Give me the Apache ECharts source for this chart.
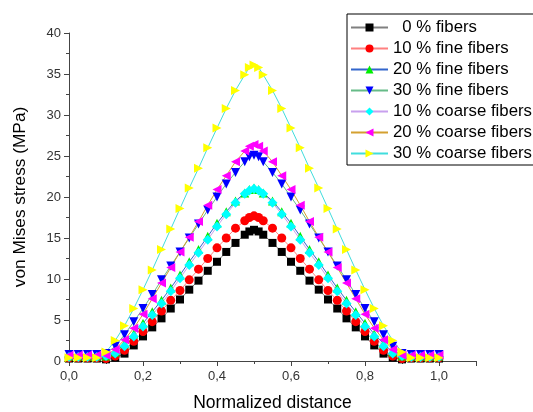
<!DOCTYPE html>
<html>
<head>
<meta charset="utf-8">
<script src="https://cdn.jsdelivr.net/npm/echarts@6/dist/echarts.min.js"></script>
<style>
html,body{margin:0;padding:0;background:#fff;}
#chart{width:533px;height:412px;}
</style>
</head>
<body>
<div id="chart"></div>
<script>
// x positions (normalized distance)
const xs = [0,0.025,0.05,0.075,0.1,0.125,0.15,0.175,0.2,0.225,0.25,0.275,0.3,0.325,0.35,0.375,0.4,0.425,0.45,0.475,
  0.4875,0.5,0.5125,
  0.525,0.55,0.575,0.6,0.625,0.65,0.675,0.7,0.725,0.75,0.775,0.8,0.825,0.85,0.875,0.9,0.925,0.95,0.975,1.0];

const seriesNames = ['  0 % fibers','10 % fine fibers','20 % fine fibers','30 % fine fibers','10 % coarse fibers','20 % coarse fibers','30 % coarse fibers'];

const fibers0 = [0.3,0.3,0.3,0.3,0.2,0.4,0.9,1.9,3.0,4.1,5.2,6.4,7.5,8.7,9.8,11.0,12.1,13.3,14.4,15.4,
  15.8,16.0,15.8,
  15.4,14.4,13.3,12.1,11.0,9.8,8.7,7.5,6.4,5.2,4.1,3.0,1.9,0.9,0.4,0.2,0.3,0.3,0.3,0.3];
const fine10 = [0.4,0.4,0.4,0.4,0.3,0.6,1.3,2.4,3.6,4.8,6.1,7.4,8.6,9.9,11.2,12.5,13.8,15.0,16.2,17.1,
  17.5,17.7,17.5,
  17.1,16.2,15.0,13.8,12.5,11.2,9.9,8.6,7.4,6.1,4.8,3.6,2.4,1.3,0.6,0.3,0.4,0.4,0.4,0.4];
const fine20 = [0.6,0.6,0.6,0.6,0.6,1.1,2.1,3.3,4.6,6.0,7.4,8.9,10.5,12.1,13.6,15.2,16.8,18.2,19.5,20.5,
  20.9,21.1,20.9,
  20.5,19.5,18.2,16.8,15.2,13.6,12.1,10.5,8.9,7.4,6.0,4.6,3.3,2.1,1.1,0.6,0.6,0.6,0.6,0.6];
const fine30 = [0.8,0.8,0.8,0.8,0.9,1.8,3.2,4.8,6.4,8.1,9.9,11.6,13.3,15.0,16.7,18.4,20.0,21.6,23.0,24.3,
  24.9,25.1,24.9,
  24.3,23.0,21.6,20.0,18.4,16.7,15.0,13.3,11.6,9.9,8.1,6.4,4.8,3.2,1.8,0.9,0.8,0.8,0.8,0.8];
const coarse10 = [0.5,0.5,0.5,0.5,0.6,0.9,1.8,3.0,4.2,5.6,7.0,8.5,10.1,11.7,13.2,14.8,16.4,17.9,19.3,20.4,
  20.8,21.0,20.8,
  20.4,19.3,17.9,16.4,14.8,13.2,11.7,10.1,8.5,7.0,5.6,4.2,3.0,1.8,0.9,0.6,0.5,0.5,0.5,0.5];
const coarse20 = [0.7,0.7,0.7,0.7,0.7,1.4,2.6,4.0,5.7,7.6,9.5,11.4,13.3,15.1,17.0,19.0,20.9,22.6,24.3,25.6,
  26.2,26.4,26.2,
  25.6,24.3,22.6,20.9,19.0,17.0,15.1,13.3,11.4,9.5,7.6,5.7,4.0,2.6,1.4,0.7,0.7,0.7,0.7,0.7];
const coarse30 = [0.4,0.4,0.4,0.4,1.1,2.5,4.3,6.4,8.7,11.1,13.6,16.1,18.6,21.1,23.5,26.0,28.4,30.8,33.0,34.9,
  35.8,36.1,35.8,
  34.9,33.0,30.8,28.4,26.0,23.5,21.1,18.6,16.1,13.6,11.1,8.7,6.4,4.3,2.5,1.1,0.4,0.4,0.4,0.4];

const xTicks = ['0,0','0,2','0,4','0,6','0,8','1,0'];
const yTicks = ['0','5','10','15','20','25','30','35','40'];

const allValues = [fibers0, fine10, fine20, fine30, coarse10, coarse20, coarse30];
const lineColors = ['#808080','#ff8080','#3366cc','#66bb88','#c8a0ee','#d4a030','#40dddd'];
const markerColors = ['#000000','#ff0000','#00ee00','#0000ff','#00ffff','#ff00ff','#ffff00'];
const symbols = ['rect','circle','triangle','triangle','diamond','triangle','triangle'];
const rotations = [0,0,0,180,0,90,-90];
const sizes = [8,9,9,9,10,9,9];

const series = allValues.map((vals, i) => ({
  name: seriesNames[i],
  type: 'line',
  data: xs.map((x, k) => [x, vals[k]]),
  symbol: symbols[i],
  symbolRotate: rotations[i],
  symbolSize: sizes[i],
  showAllSymbol: true,
  lineStyle: { color: lineColors[i], width: 1 },
  itemStyle: { color: markerColors[i], borderWidth: 0 },
  emphasis: { disabled: true },
  animation: false
}));

const chart = echarts.init(document.getElementById('chart'), null, { renderer: 'canvas' });
chart.setOption({
  animation: false,
  backgroundColor: '#ffffff',
  textStyle: { fontFamily: 'Liberation Sans, Arial, sans-serif' },
  grid: { left: 69, right: 57, top: 33, bottom: 51, containLabel: false, outerBoundsMode: 'none' },
  legend: {
    orient: 'vertical',
    left: 347,
    top: 14,
    padding: [5, 16, 3, 3],
    itemWidth: 37,
    itemHeight: 10,
    itemGap: 4,
    borderColor: '#000',
    borderWidth: 1,
    backgroundColor: '#fff',
    textStyle: { fontSize: 16.8, color: '#000', fontFamily: 'Liberation Sans, Arial, sans-serif' },
    data: seriesNames
  },
  xAxis: {
    type: 'value',
    min: 0,
    max: 1.1,
    interval: 0.2,
    name: 'Normalized distance',
    nameLocation: 'middle',
    nameGap: 33,
    nameTextStyle: { fontSize: 17.5, color: '#000' },
    axisLine: { lineStyle: { color: '#444', width: 1 } },
    axisTick: { show: true, length: 5, inside: false, lineStyle: { color: '#444' } },
    minorTick: { show: true, splitNumber: 2, length: 3, lineStyle: { color: '#444' } },
    splitLine: { show: false },
    axisLabel: {
      fontSize: 13, color: '#333', margin: 9, showMaxLabel: false,
      formatter: function (v) {
        const idx = Math.round(v / 0.2);
        return (Math.abs(v - idx * 0.2) < 1e-6 && idx < xTicks.length) ? xTicks[idx] : '';
      }
    }
  },
  yAxis: {
    type: 'value',
    min: 0,
    max: 40,
    interval: 5,
    name: 'von Mises stress (MPa)',
    nameLocation: 'middle',
    nameGap: 40,
    nameTextStyle: { fontSize: 17.3, color: '#000' },
    axisLine: { show: true, lineStyle: { color: '#444', width: 1 } },
    axisTick: { show: true, length: 5, inside: false, lineStyle: { color: '#444' } },
    minorTick: { show: true, splitNumber: 2, length: 3, lineStyle: { color: '#444' } },
    splitLine: { show: false },
    axisLabel: {
      fontSize: 13, color: '#333', margin: 8,
      formatter: function (v) { const idx = Math.round(v / 5); return yTicks[idx] !== undefined ? yTicks[idx] : ''; }
    }
  },
  series: series
});
</script>
</body>
</html>
